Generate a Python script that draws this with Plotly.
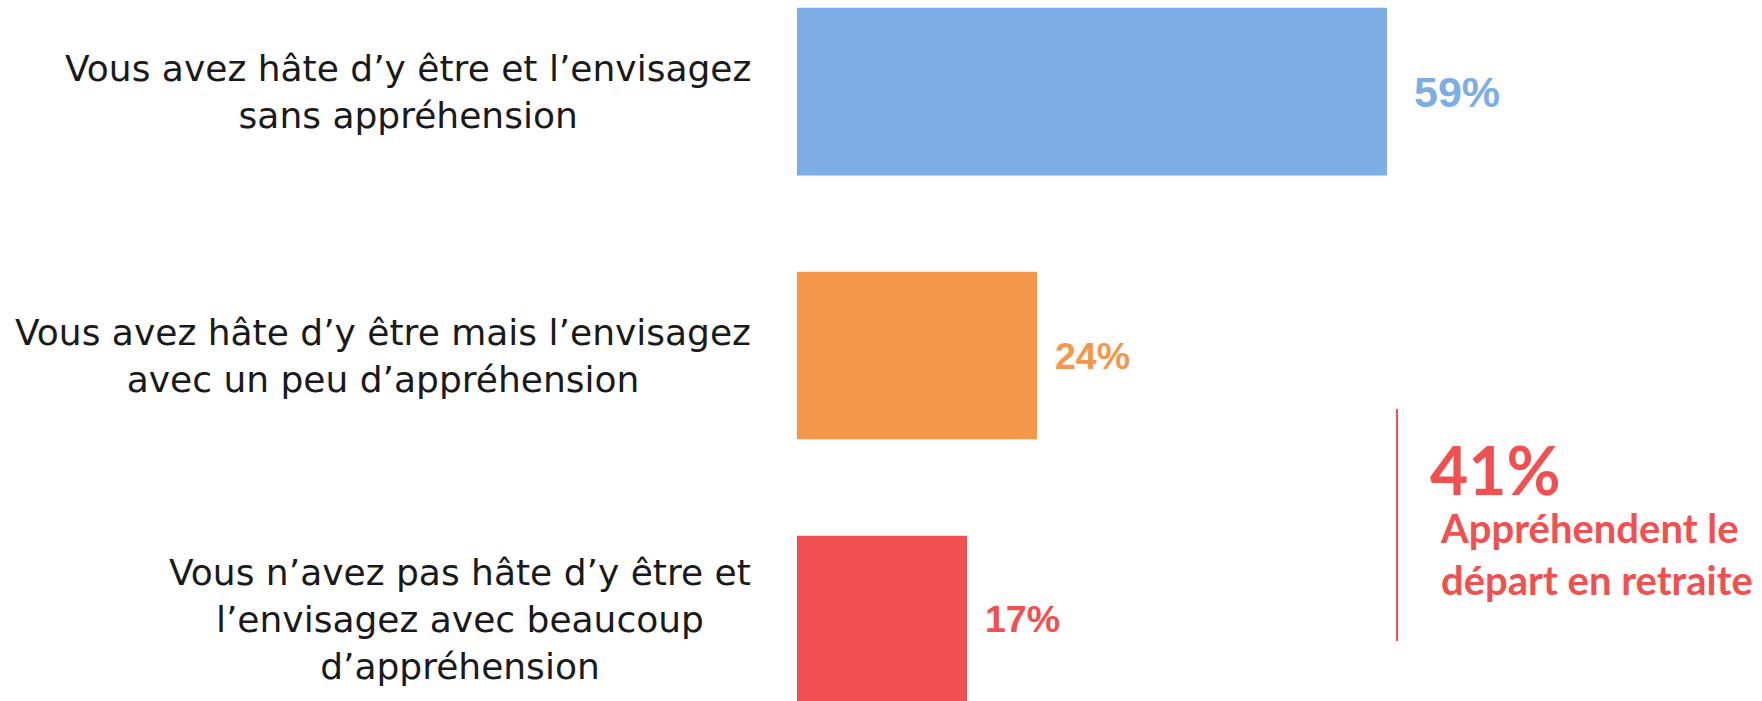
import plotly.graph_objects as go

categories = [
    "Vous avez hâte d’y être et l’envisagez<br>sans appréhension",
    "Vous avez hâte d’y être mais l’envisagez<br>avec un peu d’appréhension",
    "Vous n’avez pas hâte d’y être et<br>l’envisagez avec beaucoup<br>d’appréhension",
]
values = [59, 24, 17]
value_labels = ["59%", "24%", "17%"]
summary_value = "41%"
summary_text = "Appréhendent le<br>départ en retraite"

# styling
colors = ["#7DADE5", "#F5974A", "#F05050"]
label_sizes = [43, 37.5, 37.5]
label_shifts = [25, 16, 16]
CAT_FONT = "'DejaVu Sans', Verdana, sans-serif"
SIDE_FONT = "Lato, 'Open Sans', sans-serif"

fig = go.Figure()
fig.add_trace(go.Bar(
    x=values, y=categories, orientation="h",
    marker=dict(color=colors, line=dict(width=0)),
    width=0.635, hoverinfo="skip",
))

annotations = []
for cat, v, lab, c, sz, sh in zip(categories, values, value_labels, colors, label_sizes, label_shifts):
    annotations.append(dict(
        x=v, y=cat, xref="x", yref="y", text=f"<b>{lab}</b>",
        xanchor="left", yanchor="middle", xshift=sh, showarrow=False,
        font=dict(family="'Liberation Sans', Arial, sans-serif", size=sz, color=c),
    ))
    annotations.append(dict(
        x=0, y=cat, xref="x", yref="y", text=cat, align="center",
        xanchor="right", yanchor="middle", xshift=-44, showarrow=False,
        font=dict(family=CAT_FONT, size=36, color="#1a1a1a"),
    ))

annotations.append(dict(
    x=0.6535, y=0.330, xref="paper", yref="paper", text=f"<b>{summary_value}</b>",
    xanchor="left", yanchor="middle", showarrow=False,
    font=dict(family=SIDE_FONT, size=66, color="#F05050"),
))
annotations.append(dict(
    x=0.6643, y=0.2097, xref="paper", yref="paper", text=f"<b>{summary_text}</b>",
    xanchor="left", yanchor="middle", align="left", showarrow=False,
    font=dict(family=SIDE_FONT, size=40, color="#F05050"),
))

fig.add_shape(type="line", xref="paper", yref="paper",
              x0=0.6218, x1=0.6218, y0=0.0856, y1=0.4165,
              line=dict(color="#F05050", width=2))

fig.update_layout(
    width=1762, height=701,
    margin=dict(l=797, r=0, t=0, b=0),
    paper_bgcolor="white", plot_bgcolor="white",
    showlegend=False,
    xaxis=dict(range=[0, 96.5], visible=False, fixedrange=True),
    yaxis=dict(type="category", categoryorder="array", categoryarray=categories,
               range=[2.309, -0.347], visible=False, fixedrange=True),
    annotations=annotations,
)

fig.write_html("out.html", config={"displayModeBar": False},
               post_script="document.body.style.margin='0';")
